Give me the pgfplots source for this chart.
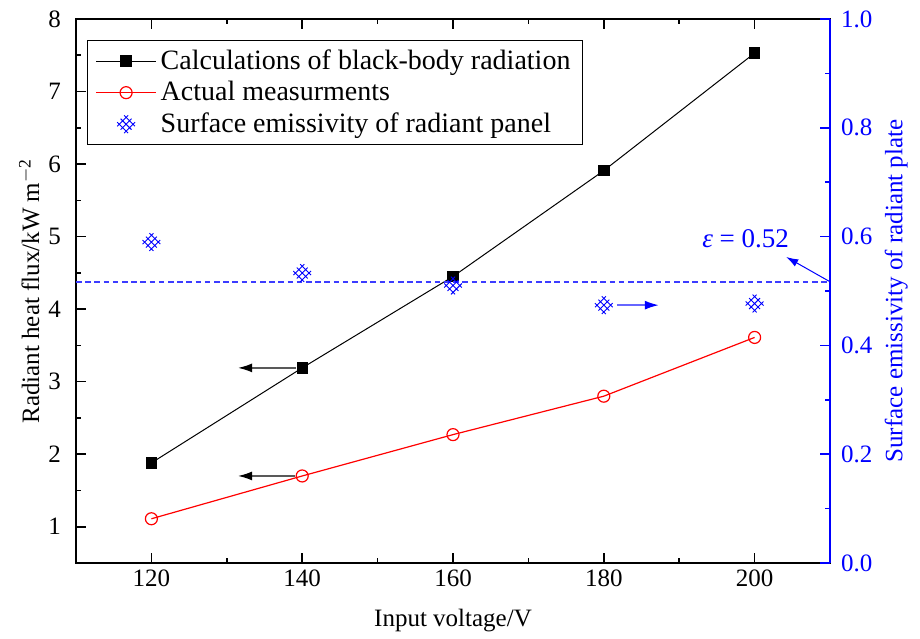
\documentclass[border=0pt]{standalone}
\usepackage{fontspec}
\setmainfont{Liberation Serif}
\usepackage{pgfplots}
\pgfplotsset{compat=1.18}
\usetikzlibrary{arrows.meta}

\definecolor{eblue}{RGB}{0,0,255}
\definecolor{dashblue}{RGB}{60,60,255}

% crossed diamond grid marker (like Origin's)
\pgfdeclareplotmark{xgrid}{%
  \pgfpathmoveto{\pgfpoint{-1.3*\pgfplotmarksize}{0.3*\pgfplotmarksize}}%
  \pgfpathlineto{\pgfpoint{0.3*\pgfplotmarksize}{-1.3*\pgfplotmarksize}}%
  \pgfpathmoveto{\pgfpoint{-0.8*\pgfplotmarksize}{0.8*\pgfplotmarksize}}%
  \pgfpathlineto{\pgfpoint{0.8*\pgfplotmarksize}{-0.8*\pgfplotmarksize}}%
  \pgfpathmoveto{\pgfpoint{-0.3*\pgfplotmarksize}{1.3*\pgfplotmarksize}}%
  \pgfpathlineto{\pgfpoint{1.3*\pgfplotmarksize}{-0.3*\pgfplotmarksize}}%
  \pgfpathmoveto{\pgfpoint{-1.3*\pgfplotmarksize}{-0.3*\pgfplotmarksize}}%
  \pgfpathlineto{\pgfpoint{0.3*\pgfplotmarksize}{1.3*\pgfplotmarksize}}%
  \pgfpathmoveto{\pgfpoint{-0.8*\pgfplotmarksize}{-0.8*\pgfplotmarksize}}%
  \pgfpathlineto{\pgfpoint{0.8*\pgfplotmarksize}{0.8*\pgfplotmarksize}}%
  \pgfpathmoveto{\pgfpoint{-0.3*\pgfplotmarksize}{-1.3*\pgfplotmarksize}}%
  \pgfpathlineto{\pgfpoint{1.3*\pgfplotmarksize}{0.3*\pgfplotmarksize}}%
  \pgfusepathqstroke
}

\pgfplotstableread{
V    calc  meas  eps
120  1.88  1.11  0.590
140  3.19  1.70  0.533
160  4.45  2.27  0.510
180  5.91  2.80  0.474
200  7.53  3.61  0.477
}\data

\begin{document}
\begin{tikzpicture}
\path[use as bounding box] (-38pt,-37.5pt) rectangle (422pt,281.5pt);

\pgfplotsset{
  common/.style={
    scale only axis, width=377pt, height=272pt,
    xmin=110, xmax=210,
    tick align=inside,
    major tick length=5pt, minor tick length=2.6pt,
    every tick label/.append style={font=\fontsize{12.5}{14}\selectfont},
    /pgf/number format/assume math mode=true,
    label style={font=\fontsize{12.5}{14}\selectfont},
  }
}

\begin{axis}[
  common,
  name=main,
  ymin=0.5, ymax=8,
  xtick={120,140,...,200}, minor x tick num=1,
  ytick={1,...,8}, minor y tick num=1,
  xtick pos=both, xticklabel pos=lower,
  ytick pos=left, yticklabel pos=left,
  axis line style={line width=0.8pt},
  every tick/.style={black, line width=0.8pt},
  yticklabel style={xshift=-4pt},
  xlabel={Input voltage/V},
  ylabel={Radiant heat flux/kW m\textsuperscript{$-$2}},
  xlabel style={at={(axis description cs:0.5,-0.105)}, anchor=center},
  ylabel style={at={(axis description cs:-0.062,0.5)}, anchor=center},
  legend style={
    at={(0.0146,0.961)}, anchor=north west,
    draw=black, line width=0.5pt,
    font=\fontsize{14}{17}\selectfont,
    inner xsep=4pt, inner ysep=2.5pt,
    row sep=0.5pt,
    cells={anchor=west},
  },
  legend image code/.code={%
    \draw[mark repeat=2, mark phase=2] plot coordinates {(0pt,0pt) (15pt,0pt) (30pt,0pt)};
  },
]
\addplot[black, line width=0.5pt, mark=square*, mark size=2.6pt,
  mark options={solid, fill=black}] table[x=V, y=calc] {\data};
\addlegendentry{Calculations of black-body radiation}
\addplot[red, line width=0.6pt, mark=o, mark size=3pt,
  mark options={solid, fill=white}] table[x=V, y=meas] {\data};
\addlegendentry{Actual measurments}
\addlegendimage{only marks, color=eblue, mark=xgrid, mark size=3.4pt, line width=0.45pt}
\addlegendentry{Surface emissivity of radiant panel}

\draw[black!65, line width=0.7pt, -{Latex[length=7pt, width=4.5pt, black]}]
  (axis cs:139.2,3.19) -- (axis cs:131.5,3.19);
\draw[black!65, line width=0.7pt, -{Latex[length=7pt, width=4.5pt, black]}]
  (axis cs:139.0,1.70) -- (axis cs:131.5,1.70);
\end{axis}

\begin{axis}[
  common,
  ymin=0, ymax=1,
  axis x line=none, axis y line*=right,
  ytick pos=right, yticklabel pos=right,
  ytick={0,0.2,...,1}, minor y tick num=1,
  axis line style={blue, line width=0.8pt},
  every tick/.style={blue, line width=0.8pt},
  yticklabel style={blue, xshift=2pt,
    /pgf/number format/fixed, /pgf/number format/fixed zerofill,
    /pgf/number format/precision=1},
  ylabel={Surface emissivity of radiant plate},
  ylabel style={blue, at={(axis description cs:1.088,0.5)}, anchor=center, rotate=0},
]
\draw[dashblue, line width=0.8pt, dash pattern=on 2.8pt off 1.8pt]
  (axis cs:110,0.517) -- (axis cs:210,0.517);
\addplot[only marks, color=eblue, mark=xgrid, mark size=3.4pt, line width=0.45pt]
  table[x=V, y=eps] {\data};

\draw[blue!60, line width=0.8pt, -{Latex[length=7pt, width=4.5pt, blue]}]
  (axis cs:181.8,0.474) -- (axis cs:187.3,0.474);
\draw[blue, line width=0.5pt, -{Latex[length=6pt, width=4pt]}]
  (axis cs:210,0.517) -- (axis cs:204.2,0.5625);
\node[blue, font=\fontsize{13.5}{16}\selectfont] at (axis cs:198.8,0.596)
  {\textit{ε} = 0.52};
\end{axis}
\end{tikzpicture}
\end{document}
